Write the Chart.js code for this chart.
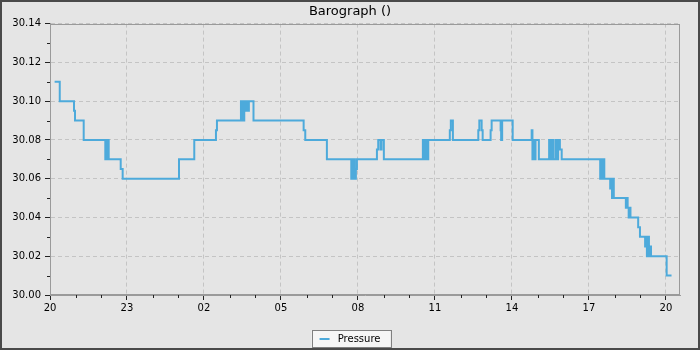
<!DOCTYPE html>
<html><head><meta charset="utf-8">
<script src="https://cdn.jsdelivr.net/npm/chart.js@4/dist/chart.umd.min.js"></script>
<style>html,body{margin:0;padding:0;background:#e5e5e5}canvas{display:block}</style>
</head><body>
<canvas id="c" width="700" height="350"></canvas>
<script>
// hours after 20:00 at which a new reading starts
const hours = [0.18,0.38,0.935,0.974,1.313,
 2.155,2.19,2.22,2.25,2.287,2.755,2.832,
 5.026,5.622,6.467,6.506,
 7.441,7.47,7.50,7.54,7.57,7.61,7.64,7.71,7.75,7.93,
 9.884,9.947,10.79,
 11.74,11.78,11.81,11.85,11.88,11.92,11.96,
 12.74,12.79,12.88,12.92,13.01,
 14.53,14.57,14.61,14.65,14.69,14.72,14.74,
 15.58,15.62,15.70,
 16.69,16.73,16.82,16.86,
 17.17,17.21,17.56,17.58,17.62,18.03,
 18.77,18.80,18.84,18.88,18.92,19.05,
 19.45,19.49,19.53,19.57,19.60,19.62,
 19.71,19.76,19.80,19.87,19.94,
 21.44,21.48,21.52,21.56,21.60,
 21.83,21.87,21.90,21.94,21.97,
 22.44,22.48,22.51,22.55,22.58,22.62,
 22.92,22.99,
 23.19,23.23,23.26,23.30,23.34,23.38,23.42,
 24.03,24.22];
const pressure = [30.11,30.10,30.095,30.09,30.08,
 30.07,30.08,30.07,30.08,30.07,30.065,30.06,
 30.07,30.08,30.085,30.09,
 30.10,30.09,30.10,30.09,30.10,30.095,30.10,30.095,30.10,30.09,
 30.085,30.08,30.07,
 30.06,30.07,30.06,30.07,30.06,30.065,30.07,
 30.075,30.08,30.075,30.08,30.07,
 30.08,30.07,30.08,30.07,30.08,30.07,30.08,
 30.085,30.09,30.08,
 30.085,30.09,30.085,30.08,
 30.085,30.09,30.085,30.08,30.09,30.08,
 30.085,30.07,30.08,30.07,30.08,30.07,
 30.08,30.07,30.08,30.07,30.08,30.07,
 30.08,30.07,30.08,30.075,30.07,
 30.06,30.07,30.06,30.07,30.06,
 30.055,30.06,30.05,30.06,30.05,
 30.045,30.05,30.045,30.04,30.045,30.04,
 30.035,30.03,
 30.025,30.03,30.02,30.03,30.02,30.025,30.02,
 30.01,30.01];
const xTickLabels = ['20','23','02','05','08','11','14','17','20'];
const yMin = 30.00, yMax = 30.14, yStep = 0.02;
const xMax = 24.55, xStep = 3;

const FONT = 'DejaVu Sans';
const points = hours.map((h,i)=>({x:h,y:pressure[i]}));

const decor = {
  id:'decor',
  beforeDraw(chart){
    const ctx = chart.ctx;
    ctx.save();
    ctx.fillStyle = '#e5e5e5';
    ctx.fillRect(0,0,chart.width,chart.height);
    const lg = chart.legend;
    if (lg && lg.legendHitBoxes && lg.legendHitBoxes.length){
      const hb = lg.legendHitBoxes[0];
      const l = hb.left - 8, t = hb.top - 4, r = hb.left + hb.width + 10, b = hb.top + hb.height + 3;
      ctx.fillStyle = '#f6f6f6';
      ctx.fillRect(l, t, r-l, b-t);
      ctx.strokeStyle = '#808080';
      ctx.lineWidth = 1;
      ctx.strokeRect(Math.round(l)+0.5, Math.round(t)+0.5, Math.round(r-l), Math.round(b-t));
    }
    ctx.restore();
  },
  afterDraw(chart){
    const ctx = chart.ctx, a = chart.chartArea;
    const xs = chart.scales.x, ys = chart.scales.y;
    ctx.save();
    ctx.strokeStyle = '#222';
    ctx.lineWidth = 1;
    ctx.beginPath();
    for (let v = yMin + 0.01; v < yMax; v += 0.02){
      const y = Math.round(ys.getPixelForValue(v)) + 0.5;
      ctx.moveTo(a.left - 3, y); ctx.lineTo(a.left, y);
    }
    for (let h = 1; h < xMax; h++){
      if (h % xStep === 0) continue;
      const x = Math.round(xs.getPixelForValue(h)) + 0.5;
      ctx.moveTo(x, a.bottom); ctx.lineTo(x, a.bottom + 3);
    }
    ctx.stroke();
    ctx.strokeStyle = '#9a9a9a';
    ctx.strokeRect(Math.round(a.left)+0.5, Math.round(a.top)+0.5, Math.round(a.right-a.left)-1, Math.round(a.bottom-a.top)-1);
    ctx.strokeStyle = '#4a4a4a';
    ctx.lineWidth = 2;
    ctx.strokeRect(1,1,chart.width-2,chart.height-2);
    ctx.restore();
  }
};

new Chart(document.getElementById('c'), {
  type:'line',
  data:{datasets:[{
    label:' Pressure',
    data:points,
    stepped:true,
    borderColor:'#4daadb',
    backgroundColor:'#4daadb',
    borderWidth:2,
    pointRadius:0,
    fill:false
  }]},
  options:{
    responsive:false,
    animation:false,
    events:[],
    layout:{padding:{left:0,right:0,top:0,bottom:-4}},
    plugins:{
      title:{display:true,text:'Barograph ()',color:'#000',
        font:{family:FONT,size:13,weight:'normal'},padding:{top:4,bottom:4}},
      legend:{display:true,position:'bottom',
        labels:{usePointStyle:true,pointStyle:'line',pointStyleWidth:10,
          color:'#000',font:{family:FONT,size:10},padding:2}},
      tooltip:{enabled:false}
    },
    scales:{
      x:{type:'linear',min:0,max:xMax,
        afterFit(s){s.height = 37;},
        ticks:{stepSize:xStep,includeBounds:false,autoSkip:false,maxRotation:0,
          color:'#000',font:{family:FONT,size:10},padding:2,
          callback:(v)=> (v % xStep === 0 ? xTickLabels[v/xStep] : '')},
        grid:{color:'#c4c4c4',lineWidth:1,tickLength:5,tickColor:'#222',tickBorderDash:[]},
        border:{display:true,color:'#9a9a9a',dash:[4,3]}
      },
      y:{type:'linear',min:yMin,max:yMax,
        afterFit(s){s.width = 50;},
        ticks:{stepSize:yStep,includeBounds:false,color:'#000',font:{family:FONT,size:10},padding:4,
          callback:(v)=>Number(v).toFixed(2)},
        grid:{color:'#c4c4c4',lineWidth:1,tickLength:5,tickColor:'#222',tickBorderDash:[]},
        border:{display:true,color:'#9a9a9a',dash:[4,3]}
      },
      yRight:{type:'linear',position:'right',min:yMin,max:yMax,
        afterFit(s){s.width = 20;},
        ticks:{display:false},
        grid:{display:false,drawTicks:false,drawOnChartArea:false},
        border:{display:false}
      }
    }
  },
  plugins:[decor]
});
</script>
</body></html>
